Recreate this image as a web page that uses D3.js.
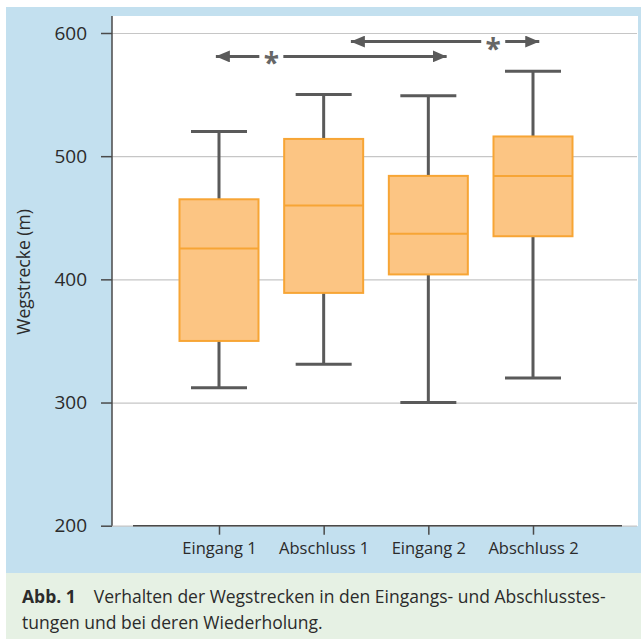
<!DOCTYPE html>
<html>
<head>
<meta charset="utf-8">
<script src="https://cdn.jsdelivr.net/npm/d3@7"></script>
<style>
  body { margin: 0; background: #fff; }
  text { font-family: "Open Sans", "Noto Sans", sans-serif; fill: #2b2b2b; }
</style>
</head>
<body>
<script>
// categories and box statistics (Wegstrecke in m)
const categories = ['Eingang 1', 'Abschluss 1', 'Eingang 2', 'Abschluss 2'];
const whiskerLow = [312, 331, 300, 320];
const q1 = [350, 389, 404, 435];
const median = [425, 460, 437, 484];
const q3 = [465, 514, 484, 516];
const whiskerHigh = [520, 550, 549, 569];

const yTicks = [200, 300, 400, 500, 600];

// significance arrows: ends given in category-index units, height in metres
const arrowFrom = [-0.03, 1.26];
const arrowTo = [2.175, 3.06];
const arrowStar = [0.5, 2.62];
const arrowLevel = [581, 593];

const width = 641, height = 639;

const svg = d3.select('body')
    .append('svg')
    .attr('width', width)
    .attr('height', height);

// backgrounds
svg.append('rect').attr('x', 6).attr('y', 7).attr('width', width - 6).attr('height', 566).attr('fill', '#c3e0ef');
svg.append('rect').attr('x', 112).attr('y', 16).attr('width', 526).attr('height', 510).attr('fill', '#ffffff');
svg.append('rect').attr('x', 6).attr('y', 573).attr('width', width - 6).attr('height', height - 573).attr('fill', '#e6f1e4');

// scales
const y = d3.scaleLinear().domain([200, 600]).range([525.7, 33]);
const x = d3.scalePoint().domain(categories).range([219, 533]);
const xi = d3.scaleLinear().domain([0, categories.length - 1]).range([219, 533]);

// gridlines
const grid = svg.append('g')
    .attr('transform', 'translate(112,0)')
    .call(d3.axisLeft(y).tickValues(yTicks).tickSize(-525).tickFormat(''));
grid.select('.domain').remove();
grid.selectAll('line').attr('stroke', '#c6c6c6').attr('stroke-width', 1.2);

// y axis
const yAxis = svg.append('g')
    .attr('transform', 'translate(112,0)')
    .call(d3.axisLeft(y).tickValues(yTicks).tickSize(11).tickPadding(14));
yAxis.select('.domain').remove();
yAxis.selectAll('line').attr('stroke', '#4a4a4a').attr('stroke-width', 1.5);
yAxis.selectAll('text').style('font-size', '19px').attr('fill', '#2b2b2b');
svg.append('line')
    .attr('x1', 112).attr('x2', 112).attr('y1', 16).attr('y2', y(200))
    .attr('stroke', '#4a4a4a').attr('stroke-width', 1.5);

// x axis
const xAxis = svg.append('g')
    .attr('transform', `translate(0,${y(200)})`)
    .call(d3.axisBottom(x).tickSize(9).tickPadding(8));
xAxis.select('.domain').remove();
xAxis.selectAll('line').attr('stroke', '#4a4a4a').attr('stroke-width', 1.5);
xAxis.selectAll('text').style('font-size', '16.5px').attr('fill', '#2b2b2b');
svg.append('line')
    .attr('x1', 133).attr('x2', 622).attr('y1', y(200)).attr('y2', y(200))
    .attr('stroke', '#4a4a4a').attr('stroke-width', 1.5);

// y axis title
svg.append('text')
    .attr('transform', `translate(30,${y(406)}) rotate(-90)`)
    .attr('text-anchor', 'middle')
    .style('font-size', '17.5px')
    .text('Wegstrecke (m)');

// box plots
const boxW = 79, capW = 56;
const whiskerColor = '#5a5a5a';
const boxes = svg.append('g').selectAll('g')
    .data(categories)
    .join('g');

boxes.append('line')
    .attr('x1', d => x(d)).attr('x2', d => x(d))
    .attr('y1', (d, i) => y(whiskerLow[i])).attr('y2', (d, i) => y(whiskerHigh[i]))
    .attr('stroke', whiskerColor).attr('stroke-width', 3);
boxes.append('line')
    .attr('x1', d => x(d) - capW / 2).attr('x2', d => x(d) + capW / 2)
    .attr('y1', (d, i) => y(whiskerLow[i])).attr('y2', (d, i) => y(whiskerLow[i]))
    .attr('stroke', whiskerColor).attr('stroke-width', 3);
boxes.append('line')
    .attr('x1', d => x(d) - capW / 2).attr('x2', d => x(d) + capW / 2)
    .attr('y1', (d, i) => y(whiskerHigh[i])).attr('y2', (d, i) => y(whiskerHigh[i]))
    .attr('stroke', whiskerColor).attr('stroke-width', 3);
boxes.append('rect')
    .attr('x', d => x(d) - boxW / 2)
    .attr('width', boxW)
    .attr('y', (d, i) => y(q3[i]))
    .attr('height', (d, i) => y(q1[i]) - y(q3[i]))
    .attr('fill', '#fcc583')
    .attr('stroke', '#f7a535').attr('stroke-width', 2);
boxes.append('line')
    .attr('x1', d => x(d) - boxW / 2).attr('x2', d => x(d) + boxW / 2)
    .attr('y1', (d, i) => y(median[i])).attr('y2', (d, i) => y(median[i]))
    .attr('stroke', '#f7a535').attr('stroke-width', 2);

// significance arrows
const defs = svg.append('defs');
defs.append('marker')
    .attr('id', 'head')
    .attr('viewBox', '0 0 14 12')
    .attr('refX', 14).attr('refY', 6)
    .attr('markerWidth', 14).attr('markerHeight', 12)
    .attr('markerUnits', 'userSpaceOnUse')
    .attr('orient', 'auto')
    .append('path')
    .attr('d', 'M0,0L14,6L0,12Z')
    .attr('fill', whiskerColor);

const gap = 12;
arrowLevel.forEach((lv, i) => {
    const yy = y(lv);
    const sx = xi(arrowStar[i]);
    svg.append('line')
        .attr('x1', sx - gap).attr('x2', xi(arrowFrom[i]))
        .attr('y1', yy).attr('y2', yy)
        .attr('stroke', whiskerColor).attr('stroke-width', 3)
        .attr('marker-end', 'url(#head)');
    svg.append('line')
        .attr('x1', sx + gap).attr('x2', xi(arrowTo[i]))
        .attr('y1', yy).attr('y2', yy)
        .attr('stroke', whiskerColor).attr('stroke-width', 3)
        .attr('marker-end', 'url(#head)');
    svg.append('text')
        .attr('x', sx).attr('y', yy + 17)
        .attr('text-anchor', 'middle')
        .style('font-size', '28px').style('font-weight', 'bold')
        .style('fill', '#666666')
        .text('*');
});

// caption
const cap = svg.append('g').style('font-size', '17.5px');
const l1 = cap.append('text').attr('x', 22).attr('y', 603);
l1.append('tspan').style('font-weight', 'bold').text('Abb. 1');
l1.append('tspan').attr('dx', 18).text('Verhalten der Wegstrecken in den Eingangs- und Abschlusstes-');
cap.append('text').attr('x', 22).attr('y', 629).text('tungen und bei deren Wiederholung.');
</script>
</body>
</html>
